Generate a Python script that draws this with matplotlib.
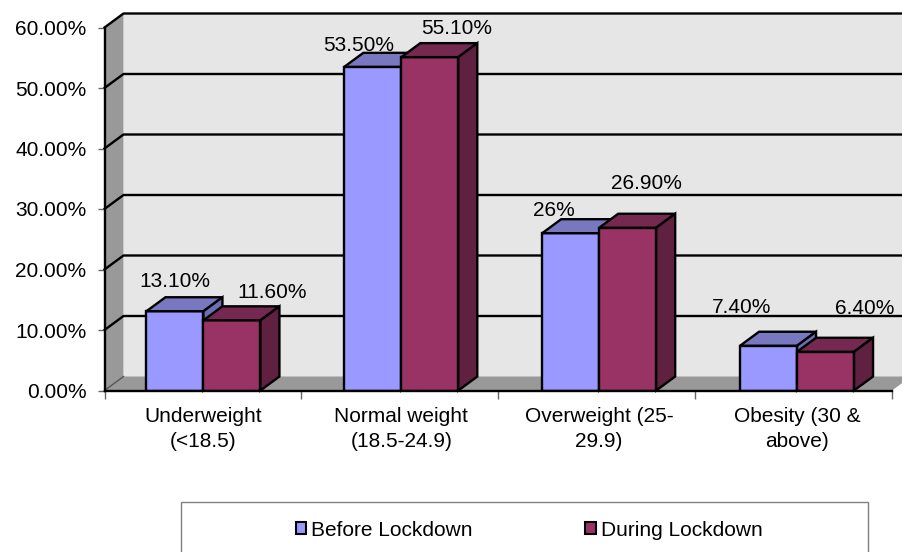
import matplotlib
matplotlib.use('Agg')
import matplotlib.pyplot as plt
from matplotlib.patches import Polygon, Rectangle

plt.rcParams['font.family'] = ['Liberation Sans', 'DejaVu Sans']

categories = ['Underweight\n(<18.5)', 'Normal weight\n(18.5-24.9)', 'Overweight (25-\n29.9)', 'Obesity (30 &\nabove)']
before = [13.1, 53.5, 26, 7.4]
during = [11.6, 55.1, 26.9, 6.4]
before_labels = ['13.10%', '53.50%', '26%', '7.40%']
during_labels = ['11.60%', '55.10%', '26.90%', '6.40%']
y_ticks = [0, 10, 20, 30, 40, 50, 60]
y_labels = ['0.00%', '10.00%', '20.00%', '30.00%', '40.00%', '50.00%', '60.00%']

# label shifts from the bar top centre, in pixels, the original places them by hand
before_shift = [(0, 30), (-14, 21), (-17, 23), (-27, 38)]
during_shift = [(40, 28), (27, 29), (19, 44), (39, 43)]

W, H = 902, 552
LEFT, RIGHT, BOTTOM, TOP = 104.5, 896, 390.5, 27.5
BAR_W = 0.288
DX = 19 / ((RIGHT - LEFT) / 4)    # depth of the fake 3d, category units
DY = 14 / ((BOTTOM - TOP) / 60)   # same, percent units
YMAX = 60
N = len(categories)
AXIS_END = 3.98                   # the x axis stops a little short of the last bar slot
FONT = 15
LW = 1.7


def bar3d(ax, x0, value, front, top, side):
    """Front face through ax.bar, then the top and side faces around it."""
    ax.bar(x0, value, BAR_W, align='edge', color=front, edgecolor='black', linewidth=LW, zorder=3)
    x1 = x0 + BAR_W
    ax.add_patch(Polygon([(x0, value), (x1, value), (x1 + DX, value + DY), (x0 + DX, value + DY)],
                         facecolor=top, edgecolor='black', linewidth=LW, zorder=3, clip_on=False))
    ax.add_patch(Polygon([(x1, 0), (x1, value), (x1 + DX, value + DY), (x1 + DX, DY)],
                         facecolor=side, edgecolor='black', linewidth=LW, zorder=3, clip_on=False))


fig = plt.figure(figsize=(W / 100, H / 100), dpi=100)
ax = fig.add_axes([LEFT / W, 1 - BOTTOM / H, (RIGHT - LEFT) / W, (BOTTOM - TOP) / H])
ax.set_xlim(0, N)
ax.set_ylim(0, YMAX)

# walls and floor
ax.add_patch(Polygon([(DX, DY), (N + DX, DY), (N + DX, YMAX + DY), (DX, YMAX + DY)],
                     facecolor='#e6e6e6', edgecolor='none', zorder=0, clip_on=False))
ax.add_patch(Polygon([(0, 0), (DX, DY), (DX, YMAX + DY), (0, YMAX)],
                     facecolor='#999999', edgecolor='none', zorder=0, clip_on=False))
ax.add_patch(Polygon([(0, 0), (AXIS_END, 0), (AXIS_END + DX, DY), (DX, DY)],
                     facecolor='#999999', edgecolor='none', zorder=0, clip_on=False))

# gridlines run along the side wall and then the back wall
for t in y_ticks[1:]:
    ax.plot([0, DX, N + DX], [t, t + DY, t + DY], color='black', linewidth=LW, zorder=1, clip_on=False)
ax.plot([0, DX], [0, DY], color='#555555', linewidth=1, zorder=1, clip_on=False)

for i in range(N):
    bx = i + 0.5 - BAR_W
    bar3d(ax, bx, before[i], '#9999ff', '#7878c0', '#6e6eb4')
    bar3d(ax, i + 0.5, during[i], '#993366', '#752850', '#60203f')
    ax.annotate(before_labels[i], (bx + BAR_W / 2, before[i]), xytext=before_shift[i],
                textcoords='offset pixels', ha='center', va='center', fontsize=FONT, zorder=4, annotation_clip=False)
    ax.annotate(during_labels[i], (i + 0.5 + BAR_W / 2, during[i]), xytext=during_shift[i],
                textcoords='offset pixels', ha='center', va='center', fontsize=FONT, zorder=4, annotation_clip=False)

for s in ['top', 'right']:
    ax.spines[s].set_visible(False)
for s in ['left', 'bottom']:
    ax.spines[s].set_linewidth(LW)
    ax.spines[s].set_zorder(5)
ax.spines['bottom'].set_bounds(0, AXIS_END)

ax.set_yticks(y_ticks)
ax.set_yticklabels(y_labels, fontsize=FONT)
ax.set_xticks([0, 0.995, 1.99, 2.985, AXIS_END])
ax.set_xticklabels([])
ax.set_xticks([i + 0.5 for i in range(N)], minor=True)
ax.set_xticklabels(categories, minor=True, fontsize=FONT, linespacing=1.36)
ax.tick_params(axis='y', length=5, width=1, color='#666666', pad=8)
ax.tick_params(axis='x', which='major', length=6, width=1, color='#666666')
ax.tick_params(axis='x', which='minor', length=0, pad=12)

# legend box runs off the bottom of the picture
fig.add_artist(Rectangle((181 / W, -0.02), 687 / W, 1 - 502 / H + 0.02, transform=fig.transFigure,
                         facecolor='white', edgecolor='#808080', linewidth=1))
handles = [Rectangle((0, 0), 1, 1, facecolor='#9999ff', edgecolor='black', linewidth=1.5),
           Rectangle((0, 0), 1, 1, facecolor='#993366', edgecolor='black', linewidth=1.5)]
fig.legend(handles, ['Before Lockdown', 'During Lockdown'], ncol=2, frameon=False, fontsize=FONT,
           loc='center', bbox_to_anchor=(529 / W, 1 - 530 / H), handlelength=0.5, handleheight=0.5,
           handletextpad=0.25, columnspacing=5.4, borderpad=0)

fig.savefig('out.png', dpi=100)
